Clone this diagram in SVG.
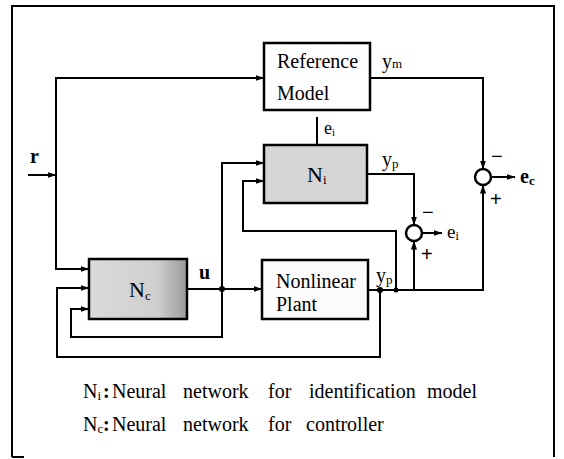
<svg xmlns="http://www.w3.org/2000/svg" width="564" height="459" viewBox="0 0 564 459">
<style>
.ln{fill:none;stroke:#000;stroke-width:2}
.bx{stroke:#000;stroke-width:2.5}
.t{font-family:"Liberation Serif","Times New Roman",serif;fill:#000}
.lb{font-size:20px}
.sg{font-family:"Liberation Sans",sans-serif;font-size:20px;fill:#000}
</style>
<defs>
<marker id="ah" markerWidth="9" markerHeight="7" refX="8.5" refY="3.5" orient="auto" markerUnits="userSpaceOnUse">
<path d="M0,0.5 L9,3.5 L0,6.5 Z" fill="#000"/>
</marker>
<linearGradient id="ncg" x1="0" y1="0" x2="1" y2="0">
<stop offset="0" stop-color="#dadada"/>
<stop offset="0.7" stop-color="#cfcfcf"/>
<stop offset="1" stop-color="#9a9a9a"/>
</linearGradient>
</defs>
<rect width="564" height="459" fill="#fff"/>
<path class="ln" d="M12,457 V6 H554 V457 M12,457 H24" stroke-width="2.5"/>

<g id="connectors">
<path class="ln" d="M28,175 H56" marker-end="url(#ah)"/>
<path class="ln" d="M56,269 V78 H264" marker-end="url(#ah)"/>
<path class="ln" d="M56,175 V269 H89" marker-end="url(#ah)"/>
<path class="ln" d="M370,78 H483 V169" marker-end="url(#ah)"/>
<path class="ln" d="M317,117 V145"/>
<path class="ln" d="M367,174 H414 V225" marker-end="url(#ah)"/>
<path class="ln" d="M422,233 H442" marker-end="url(#ah)"/>
<path class="ln" d="M368,290 H483 V185" marker-end="url(#ah)"/>
<path class="ln" d="M414,290 V241" marker-end="url(#ah)"/>
<path class="ln" d="M491,177 H515" marker-end="url(#ah)"/>
<path class="ln" d="M380,290 V357 H57 V288 H89" marker-end="url(#ah)"/>
<path class="ln" d="M396,290 V231 H243 V181 H264" marker-end="url(#ah)"/>
<path class="ln" d="M187,289 H262" marker-end="url(#ah)"/>
<path class="ln" d="M222,289 V163 H264" marker-end="url(#ah)"/>
<path class="ln" d="M222,289 V337 H71 V309 H89" marker-end="url(#ah)"/>
<circle cx="222" cy="289" r="3" fill="#000"/>
<circle cx="380" cy="290" r="3" fill="#000"/>
<circle cx="396" cy="290" r="2.5" fill="#000"/>
</g>

<g id="ref-model">
<rect class="bx" x="264" y="43" width="106" height="67" fill="#fff"/>
<text class="t lb" x="277" y="68">Reference</text>
<text class="t lb" x="277" y="100">Model</text>
</g>
<g id="ni">
<rect class="bx" x="264" y="145" width="103" height="58" fill="#d6d6d6"/>
<text class="t" x="307" y="182" font-size="22">N<tspan font-size="13" dy="2">i</tspan></text>
</g>
<g id="nc">
<rect class="bx" x="89" y="259" width="98" height="60" fill="url(#ncg)"/>
<text class="t" x="129" y="297" font-size="22">N<tspan font-size="13" dy="3">c</tspan></text>
</g>
<g id="plant">
<rect class="bx" x="262" y="260" width="106" height="59" fill="#fbfbfb"/>
<text class="t lb" x="276" y="288">Nonlinear</text>
<text class="t lb" x="276" y="311">Plant</text>
</g>
<g id="sum-ei">
<circle cx="414" cy="233" r="8" fill="#fff" stroke="#000" stroke-width="2.5"/>
</g>
<g id="sum-ec">
<circle cx="483" cy="177" r="8" fill="#fff" stroke="#000" stroke-width="2.5"/>
</g>

<g id="labels">
<text class="t" x="30" y="163" font-size="20" font-weight="bold">r</text>
<text class="t lb" x="382" y="68">y<tspan font-size="13" dy="0">m</tspan></text>
<text class="t" x="324" y="134" font-size="18">e<tspan font-size="11" dy="2">i</tspan></text>
<text class="t lb" x="382" y="166">y<tspan font-size="13" dy="2">p</tspan></text>
<text class="t lb" x="376" y="282">y<tspan font-size="13" dy="2">p</tspan></text>
<text class="t" x="199" y="279" font-size="20" font-weight="bold">u</text>
<text class="t" x="447" y="238" font-size="19">e<tspan font-size="12" dy="2">i</tspan></text>
<text class="t" x="520" y="183" font-size="20" font-weight="bold">e<tspan font-size="13" dy="2">c</tspan></text>
<text class="sg" x="422" y="219">−</text>
<text class="sg" x="421" y="261">+</text>
<text class="sg" x="491" y="163">−</text>
<text class="sg" x="490" y="206">+</text>
</g>

<g id="legend">
<text class="t lb" y="398"><tspan x="83">N</tspan><tspan font-size="13" dy="2">i</tspan><tspan x="103" dy="-2" font-weight="bold">:</tspan><tspan x="112">Neural</tspan><tspan x="183">network</tspan><tspan x="268">for</tspan><tspan x="309">identification</tspan><tspan x="427">model</tspan></text>
<text class="t lb" y="431"><tspan x="83">N</tspan><tspan font-size="13" dy="2">c</tspan><tspan x="103" dy="-2" font-weight="bold">:</tspan><tspan x="112">Neural</tspan><tspan x="183">network</tspan><tspan x="268">for</tspan><tspan x="306">controller</tspan></text>
</g>
</svg>
